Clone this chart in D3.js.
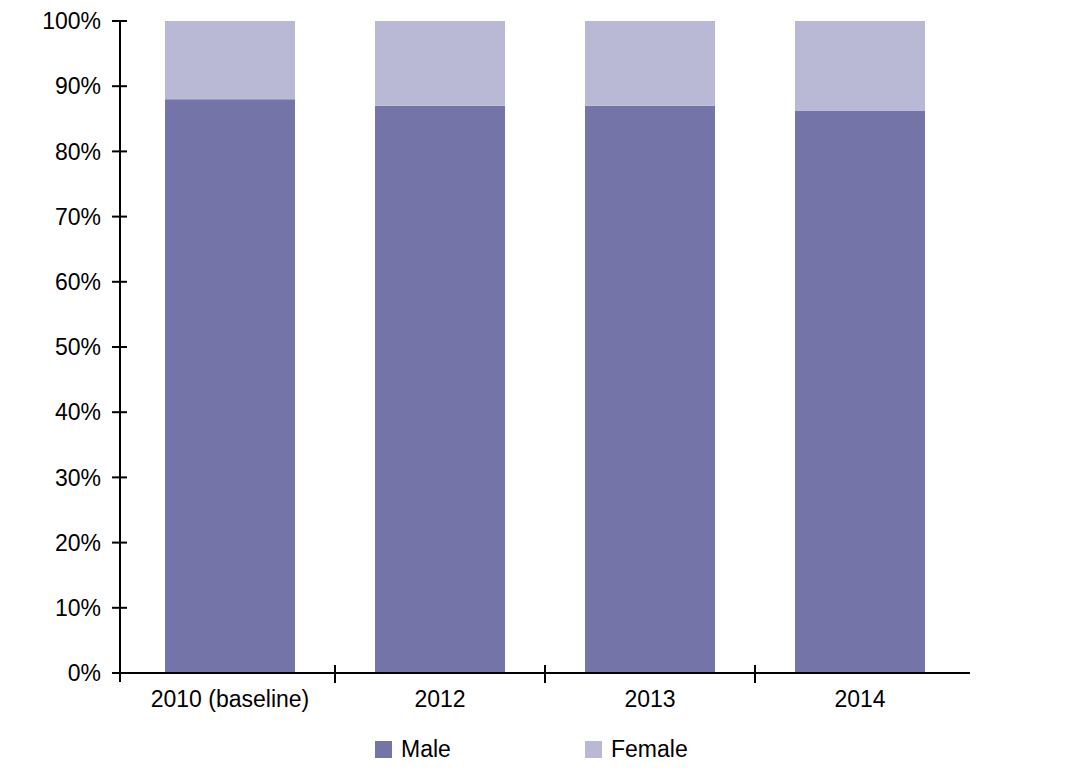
<!DOCTYPE html>
<html><head><meta charset="utf-8">
<script src="https://cdn.jsdelivr.net/npm/d3@7"></script>
<style>body{margin:0;background:#fff}svg{display:block;font-family:"Liberation Sans",Arial,sans-serif}</style>
</head><body><svg id="c" width="1090" height="775"></svg>
<script>
const categories = ["2010 (baseline)", "2012", "2013", "2014"];
const maleValues = [88, 87, 87, 86.2];
const femaleValues = [12, 13, 13, 13.8];
const yTicks = [0,10,20,30,40,50,60,70,80,90,100];
const seriesNames = ["Male", "Female"];
const seriesColors = ["#7474A9", "#B9B9D5"];

const svg = d3.select("#c");
const y = d3.scaleLinear().domain([0,100]).range([673,21]);
const x = d3.scaleBand().domain(categories).range([125,965]).paddingInner(0).paddingOuter(0);
const bw = 130;

const data = categories.map((c,i)=>({c, male:maleValues[i], female:femaleValues[i]}));
const stack = d3.stack().keys(["male","female"])(data);

stack.forEach((s,si)=>{
  svg.append("g").selectAll("rect").data(s).join("rect")
    .attr("x", d=>x(d.data.c)+x.bandwidth()/2-bw/2)
    .attr("width", bw)
    .attr("y", d=>y(d[1]))
    .attr("height", d=>y(d[0])-y(d[1]))
    .attr("fill", seriesColors[si]);
});

// y axis
const ya = svg.append("g");
ya.append("line").attr("x1",120).attr("x2",120).attr("y1",y(100)-1).attr("y2",y(0)+9).attr("stroke","#000").attr("stroke-width",2);
ya.selectAll("line.t").data(yTicks).join("line").attr("class","t")
  .attr("x1",112).attr("x2",127).attr("y1",d=>y(d)).attr("y2",d=>y(d)).attr("stroke","#000").attr("stroke-width",2);
ya.selectAll("text").data(yTicks).join("text")
  .attr("x",101).attr("y",d=>y(d)).attr("dy","0.36em").attr("text-anchor","end")
  .attr("font-size",23).attr("fill","#000").text(d=>d+"%");

// x axis
const xa = svg.append("g");
xa.append("line").attr("x1",120).attr("x2",970).attr("y1",673).attr("y2",673).attr("stroke","#000").attr("stroke-width",2);
const bounds = categories.slice(1).map(c=>x(c));
xa.selectAll("line.t").data(bounds).join("line").attr("class","t")
  .attr("x1",d=>d).attr("x2",d=>d).attr("y1",665).attr("y2",683).attr("stroke","#000").attr("stroke-width",2);
xa.selectAll("text").data(categories).join("text")
  .attr("x",d=>x(d)+x.bandwidth()/2).attr("y",707).attr("text-anchor","middle")
  .attr("font-size",23).attr("fill","#000").text(d=>d);

// legend
const legX = [375, 585];
const lg = svg.append("g");
seriesNames.forEach((n,i)=>{
  lg.append("rect").attr("x",legX[i]).attr("y",741).attr("width",17).attr("height",17).attr("fill",seriesColors[i]);
  lg.append("text").attr("x",legX[i]+26).attr("y",757).attr("font-size",23).attr("fill","#000").text(n);
});
</script></body></html>
